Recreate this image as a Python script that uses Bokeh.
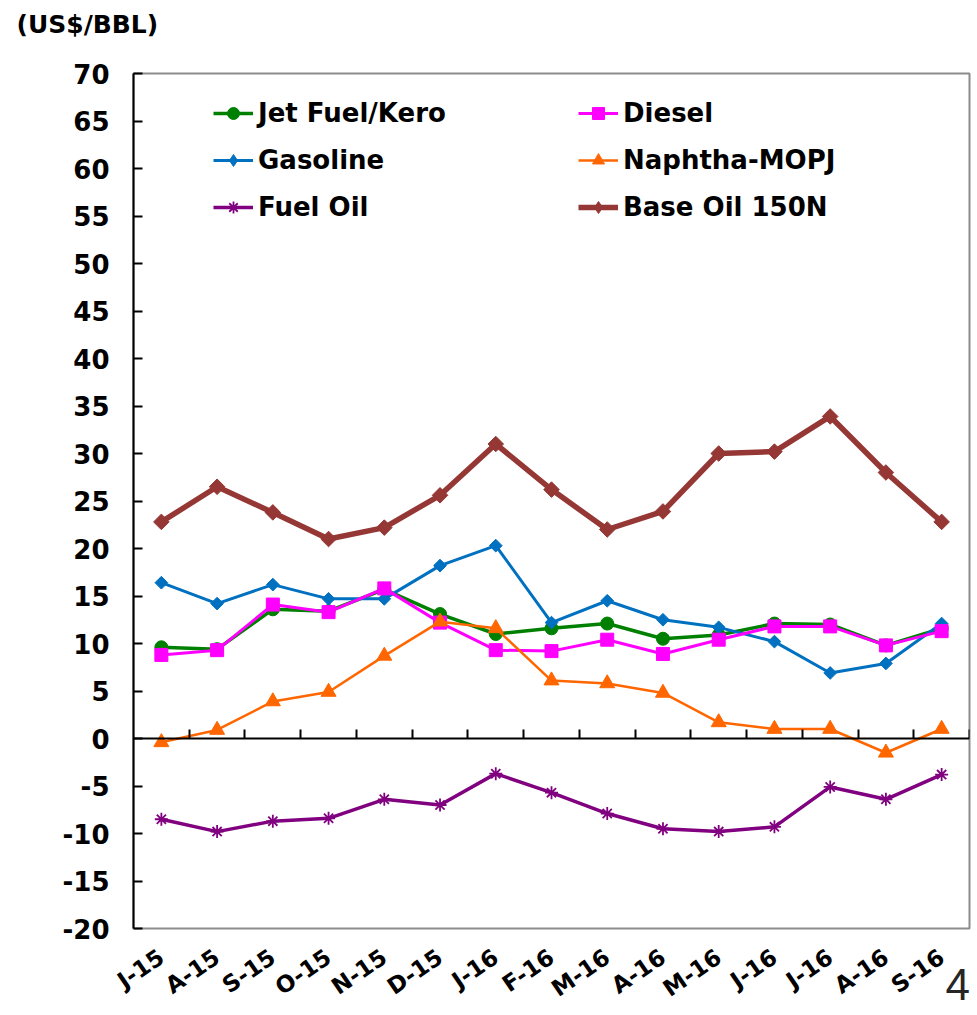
import math
from bokeh.plotting import figure
from bokeh.models import (Range1d, LinearAxis, FixedTicker, SingleIntervalTicker, Legend,
                          LegendItem, Title, ColumnDataSource, PrintfTickFormatter)
from bokeh.embed import file_html
from bokeh.resources import INLINE

# ---------------- data ----------------
months = ["J-15", "A-15", "S-15", "O-15", "N-15", "D-15", "J-16", "F-16",
          "M-16", "A-16", "M-16", "J-16", "J-16", "A-16", "S-16"]
jet_fuel = [9.6, 9.4, 13.6, 13.4, 15.7, 13.1, 11.0, 11.6, 12.1, 10.5, 10.9, 12.1, 12.0, 9.8, 11.6]
gasoline = [16.4, 14.2, 16.2, 14.7, 14.7, 18.2, 20.3, 12.2, 14.5, 12.5, 11.7, 10.2, 6.9, 7.9, 12.1]
diesel = [8.8, 9.3, 14.1, 13.3, 15.8, 12.2, 9.3, 9.2, 10.4, 8.9, 10.4, 11.8, 11.8, 9.8, 11.3]
naphtha = [-0.4, 0.9, 3.9, 4.9, 8.7, 12.3, 11.6, 6.1, 5.8, 4.8, 1.7, 1.0, 1.0, -1.5, 1.0]
fuel_oil = [-8.5, -9.8, -8.7, -8.4, -6.4, -7.0, -3.7, -5.7, -7.9, -9.5, -9.8, -9.3, -5.1, -6.4, -3.8]
base_oil = [22.8, 26.5, 23.8, 21.0, 22.2, 25.6, 31.0, 26.2, 22.0, 23.9, 30.0, 30.2, 33.9, 28.0, 22.8]

unit_title = "(US$/BBL)"
page_number = "4"
y_min, y_max, y_step = -20, 70, 5

FONT = "DejaVu Sans"
n = len(months)
xs = list(range(n))

p = figure(width=972, height=1015, output_backend="svg", toolbar_location=None,
           x_range=Range1d(-0.5, n - 0.5), y_range=Range1d(y_min, y_max),
           x_axis_location=None, min_border_left=133, min_border_right=1,
           min_border_top=73, min_border_bottom=87)
p.xgrid.visible = False
p.ygrid.visible = False
p.outline_line_color = "#8c8c8c"
p.outline_line_width = 2
p.background_fill_color = "white"
p.border_fill_color = "white"

# y axis
ya = p.yaxis[0]
ya.ticker = SingleIntervalTicker(interval=y_step)
ya.formatter = PrintfTickFormatter(format="%d")
ya.axis_line_color = "black"
ya.axis_line_width = 2
ya.major_tick_in = 9
ya.major_tick_out = 0
ya.major_tick_line_width = 2
ya.minor_tick_line_color = None
ya.major_label_text_font = FONT
ya.major_label_text_font_style = "bold"
ya.major_label_text_font_size = "26px"
ya.major_label_text_color = "black"
ya.major_label_standoff = 20

# category labels axis (below the plot area)
xl = LinearAxis(ticker=FixedTicker(ticks=xs))
xl.major_label_overrides = {i: m for i, m in zip(xs, months)}
xl.axis_line_color = None
xl.major_tick_line_color = None
xl.minor_tick_line_color = None
xl.major_label_orientation = 0.6
xl.major_label_standoff = 20
xl.major_label_text_font = FONT
xl.major_label_text_font_style = "bold"
xl.major_label_text_font_size = "23px"
xl.major_label_text_color = "black"
p.add_layout(xl, "below")

# page number: label of an empty right-hand axis, pulled back inside the corner
ra = LinearAxis(ticker=FixedTicker(ticks=[]))
ra.axis_line_color = None
ra.major_tick_line_color = None
ra.minor_tick_line_color = None
ra.major_label_standoff = 0
ra.major_tick_out = 0
ra.major_tick_in = 0
ra.axis_label = "\n\n" + page_number
ra.axis_label_orientation = "horizontal"
ra.axis_label_align = "start"
ra.axis_label_standoff = -24
ra.axis_label_text_font = "Liberation Sans"
ra.axis_label_text_font_style = "normal"
ra.axis_label_text_font_size = "44px"
ra.axis_label_text_line_height = 1.15
ra.axis_label_text_color = "#262626"
p.add_layout(ra, "right")

# horizontal axis line crossing at zero with ticks between categories
between = [i + 0.5 for i in range(n)]
xa = LinearAxis(fixed_location=0, ticker=FixedTicker(ticks=between))
xa.axis_line_color = "black"
xa.axis_line_width = 2
xa.major_tick_in = 0
xa.major_tick_out = 9
xa.major_tick_line_width = 2
xa.minor_tick_line_color = None
xa.major_label_overrides = {t: "" for t in between}
xa.major_label_text_font_size = "0px"
xa.major_label_standoff = 0
p.add_layout(xa, "above")

# unit title at top-left (second empty line lifts it towards the top edge)
p.add_layout(Title(text=unit_title + "\n", align="left", offset=-117, standoff=12,
                   text_font=FONT, text_font_style="bold", text_font_size="25px",
                   text_color="black"), "above")

series = [
    ("Jet Fuel/Kero", jet_fuel, "#008000", 3.5, "circle", 13, 0, 0),
    ("Gasoline", gasoline, "#0070C0", 3, "square", 9, math.pi / 4, 13),
    ("Diesel", diesel, "#FF00FF", 3, "square", 13, 0, 0),
    ("Naphtha-MOPJ", naphtha, "#FF6600", 2.5, "triangle", 15, 0, 0),
    ("Fuel Oil", fuel_oil, "#800080", 3.5, "asterisk", 13, 0, 0),
    ("Base Oil 150N", base_oil, "#953735", 5.5, "square", 11, math.pi / 4, 17),
]

items = {}
for name, vals, col, lw, mk, sz, ang, leg_sz in series:
    src = ColumnDataSource(dict(x=xs, y=vals))
    r1 = p.line("x", "y", source=src, line_color=col, line_width=lw)
    if mk == "asterisk":
        r2 = p.scatter("x", "y", source=src, marker=mk, size=sz, line_color=col,
                       line_width=1.8)
        leg = [r1, r2]
    else:
        r2 = p.scatter("x", "y", source=src, marker=mk, size=sz, angle=ang,
                       fill_color=col, line_color=col)
        if ang:
            # hidden diamond renderer used only for the legend symbol
            r3 = p.scatter("x", "y", source=src, marker="diamond", size=leg_sz,
                           fill_color=col, line_color=col, visible=False)
            leg = [r1, r3]
        else:
            leg = [r1, r2]
    items[name] = LegendItem(label=name, renderers=leg)

def make_legend(names, x):
    lg = Legend(items=[items[k] for k in names], location=(x, 706),
                orientation="vertical", margin=0, padding=0, spacing=17,
                glyph_width=40, glyph_height=30, label_height=30,
                label_standoff=5, border_line_color=None,
                background_fill_alpha=0, inactive_fill_alpha=0,
                label_text_font=FONT, label_text_font_style="bold",
                label_text_font_size="26px", label_text_color="black")
    p.add_layout(lg, "center")

make_legend(["Jet Fuel/Kero", "Gasoline", "Fuel Oil"], 80)
make_legend(["Diesel", "Naphtha-MOPJ", "Base Oil 150N"], 445)

open("out.html", "w").write(file_html(p, INLINE))
